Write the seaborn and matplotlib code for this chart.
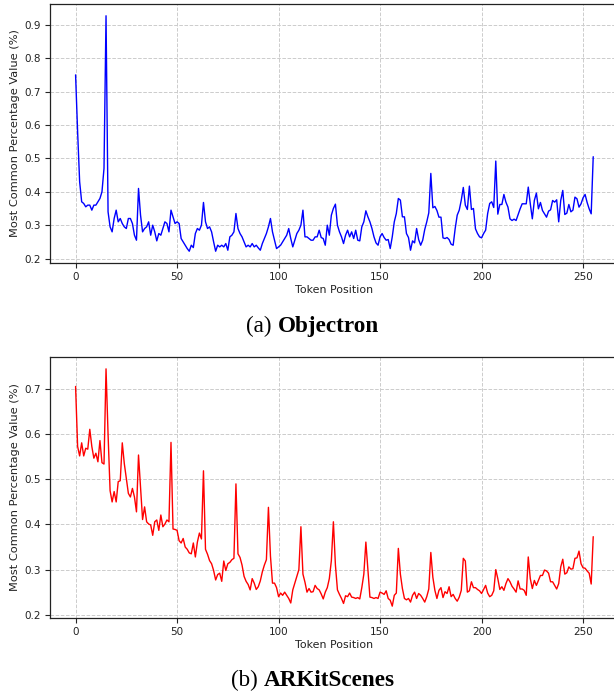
import matplotlib
matplotlib.use("Agg")
import matplotlib.pyplot as plt
import seaborn as sns

tokens = list(range(256))

# Objectron: most common percentage value per token position
objectron = [
    0.75, 0.58, 0.43, 0.37, 0.365, 0.355, 0.36, 0.36, 0.345, 0.36, 0.36, 0.37, 0.38, 0.40, 0.47, 0.927,
    0.34, 0.295, 0.28, 0.32, 0.345, 0.31, 0.32, 0.305, 0.295, 0.29, 0.32, 0.32, 0.305, 0.27, 0.255, 0.41,
    0.33, 0.28, 0.29, 0.295, 0.31, 0.27, 0.30, 0.28, 0.253, 0.275, 0.27, 0.29, 0.31, 0.305, 0.28, 0.345,
    0.325, 0.305, 0.31, 0.305, 0.26, 0.25, 0.24, 0.23, 0.222, 0.24, 0.233, 0.275, 0.29, 0.285, 0.30, 0.368,
    0.31, 0.29, 0.295, 0.28, 0.25, 0.222, 0.24, 0.235, 0.24, 0.235, 0.245, 0.225, 0.265, 0.27, 0.28, 0.335,
    0.29, 0.275, 0.265, 0.25, 0.235, 0.24, 0.235, 0.245, 0.235, 0.24, 0.232, 0.225, 0.245, 0.26, 0.275, 0.295,
    0.32, 0.28, 0.255, 0.23, 0.235, 0.24, 0.25, 0.26, 0.27, 0.29, 0.26, 0.235, 0.255, 0.275, 0.285, 0.30,
    0.345, 0.265, 0.265, 0.26, 0.255, 0.255, 0.265, 0.265, 0.285, 0.263, 0.26, 0.24, 0.30, 0.27, 0.33, 0.35,
    0.363, 0.30, 0.28, 0.265, 0.245, 0.27, 0.285, 0.265, 0.28, 0.26, 0.285, 0.255, 0.253, 0.295, 0.31, 0.343,
    0.325, 0.31, 0.29, 0.265, 0.247, 0.24, 0.265, 0.275, 0.263, 0.255, 0.257, 0.23, 0.265, 0.31, 0.335, 0.38,
    0.375, 0.325, 0.325, 0.275, 0.263, 0.225, 0.253, 0.247, 0.29, 0.257, 0.24, 0.255, 0.287, 0.31, 0.337, 0.455,
    0.352, 0.356, 0.344, 0.324, 0.324, 0.262, 0.26, 0.263, 0.257, 0.243, 0.24, 0.29, 0.33, 0.345, 0.375, 0.413,
    0.36, 0.347, 0.417, 0.347, 0.35, 0.289, 0.275, 0.265, 0.262, 0.275, 0.285, 0.335, 0.365, 0.37, 0.353, 0.492,
    0.333, 0.362, 0.362, 0.392, 0.369, 0.354, 0.319, 0.314, 0.318, 0.314, 0.332, 0.349, 0.364, 0.364, 0.364, 0.414,
    0.364, 0.319, 0.374, 0.396, 0.349, 0.368, 0.344, 0.334, 0.324, 0.342, 0.346, 0.374, 0.369, 0.376, 0.31, 0.374,
    0.404, 0.332, 0.336, 0.362, 0.34, 0.345, 0.384, 0.379, 0.354, 0.364, 0.382, 0.392, 0.368, 0.349, 0.334, 0.505,
]

# ARKitScenes
arkitscenes = [
    0.706, 0.573, 0.552, 0.581, 0.552, 0.569, 0.567, 0.611, 0.573, 0.547, 0.558, 0.539, 0.586, 0.537, 0.534, 0.745,
    0.60, 0.475, 0.45, 0.473, 0.45, 0.495, 0.497, 0.581, 0.535, 0.502, 0.469, 0.461, 0.48, 0.461, 0.428, 0.554,
    0.484, 0.411, 0.439, 0.406, 0.401, 0.399, 0.376, 0.406, 0.41, 0.387, 0.421, 0.395, 0.401, 0.41, 0.406, 0.582,
    0.39, 0.389, 0.387, 0.364, 0.359, 0.369, 0.35, 0.345, 0.337, 0.335, 0.359, 0.328, 0.361, 0.381, 0.368, 0.519,
    0.345, 0.334, 0.32, 0.313, 0.298, 0.277, 0.289, 0.292, 0.274, 0.319, 0.298, 0.313, 0.316, 0.322, 0.325, 0.49,
    0.335, 0.327, 0.31, 0.285, 0.274, 0.267, 0.255, 0.28, 0.27, 0.256, 0.262, 0.275, 0.295, 0.31, 0.322, 0.438,
    0.33, 0.27, 0.27, 0.26, 0.24, 0.248, 0.243, 0.25, 0.243, 0.236, 0.226, 0.255, 0.27, 0.285, 0.30, 0.395,
    0.29, 0.272, 0.25, 0.258, 0.25, 0.251, 0.265, 0.258, 0.255, 0.246, 0.235, 0.25, 0.26, 0.28, 0.32, 0.406,
    0.31, 0.255, 0.245, 0.236, 0.225, 0.242, 0.24, 0.248, 0.239, 0.238, 0.236, 0.238, 0.235, 0.26, 0.29, 0.361,
    0.30, 0.239, 0.238, 0.236, 0.238, 0.236, 0.25, 0.248, 0.245, 0.253, 0.236, 0.232, 0.219, 0.243, 0.248, 0.347,
    0.29, 0.258, 0.236, 0.233, 0.236, 0.228, 0.243, 0.25, 0.236, 0.247, 0.243, 0.236, 0.228, 0.24, 0.257, 0.338,
    0.283, 0.254, 0.236, 0.254, 0.26, 0.238, 0.251, 0.247, 0.262, 0.24, 0.245, 0.236, 0.23, 0.239, 0.254, 0.325,
    0.319, 0.25, 0.253, 0.273, 0.26, 0.26, 0.256, 0.253, 0.247, 0.256, 0.265, 0.248, 0.24, 0.243, 0.253, 0.30,
    0.28, 0.256, 0.262, 0.254, 0.269, 0.28, 0.273, 0.263, 0.257, 0.25, 0.275, 0.257, 0.257, 0.254, 0.243, 0.328,
    0.28, 0.258, 0.276, 0.265, 0.276, 0.287, 0.287, 0.299, 0.297, 0.292, 0.273, 0.273, 0.265, 0.257, 0.269, 0.306,
    0.323, 0.29, 0.293, 0.306, 0.301, 0.302, 0.325, 0.326, 0.341, 0.313, 0.304, 0.303, 0.297, 0.292, 0.268, 0.373,
]

captions = [("(a) ", "Objectron"), ("(b) ", "ARKitScenes")]

sns.set_theme(style="ticks")
plt.rcParams['font.family'] = ['DejaVu Sans']

W, H = 614, 693
fig = plt.figure(figsize=(W / 100, H / 100), dpi=100)
fig.patch.set_facecolor('white')

# axes run past the right edge, as in the cropped original
ax1 = fig.add_axes([49.7 / W, (H - 263) / H, 569.4 / W, 259 / H])
ax2 = fig.add_axes([49.7 / W, (H - 618) / H, 569.4 / W, 261 / H])

for ax, vals, color in [(ax1, objectron, 'blue'), (ax2, arkitscenes, 'red')]:
    sns.lineplot(x=tokens, y=vals, color=color, linewidth=1.0, ax=ax)
    ax.margins(x=0.05, y=0.05)
    ax.grid(True, linestyle='--', color='#cccccc', linewidth=0.7)
    ax.set_xlabel('Token Position', fontsize=7.9, labelpad=2, color='#222222')
    ax.set_ylabel('Most Common Percentage Value (%)', fontsize=8.2, labelpad=3, color='#222222')
    ax.tick_params(labelsize=7.5, length=3.5, width=0.8, pad=3, labelcolor='#222222')
    for s in ax.spines.values():
        s.set_color('#222222')
        s.set_linewidth(0.9)

cap_pos = [(246.5, 326), (231, 680)]
for (px, py), (pre, name) in zip(cap_pos, captions):
    t1 = fig.text(px / W, 1 - py / H, pre, fontsize=16.7, family='Liberation Serif',
                  ha='left', va='center', color='black')
    ax1.annotate(name, xy=(1, 0), xycoords=t1, ha='left', va='bottom', color='black',
                 fontsize=16.7, fontweight='bold', family='Liberation Serif')

fig.savefig('out.png', dpi=100, facecolor='white')
